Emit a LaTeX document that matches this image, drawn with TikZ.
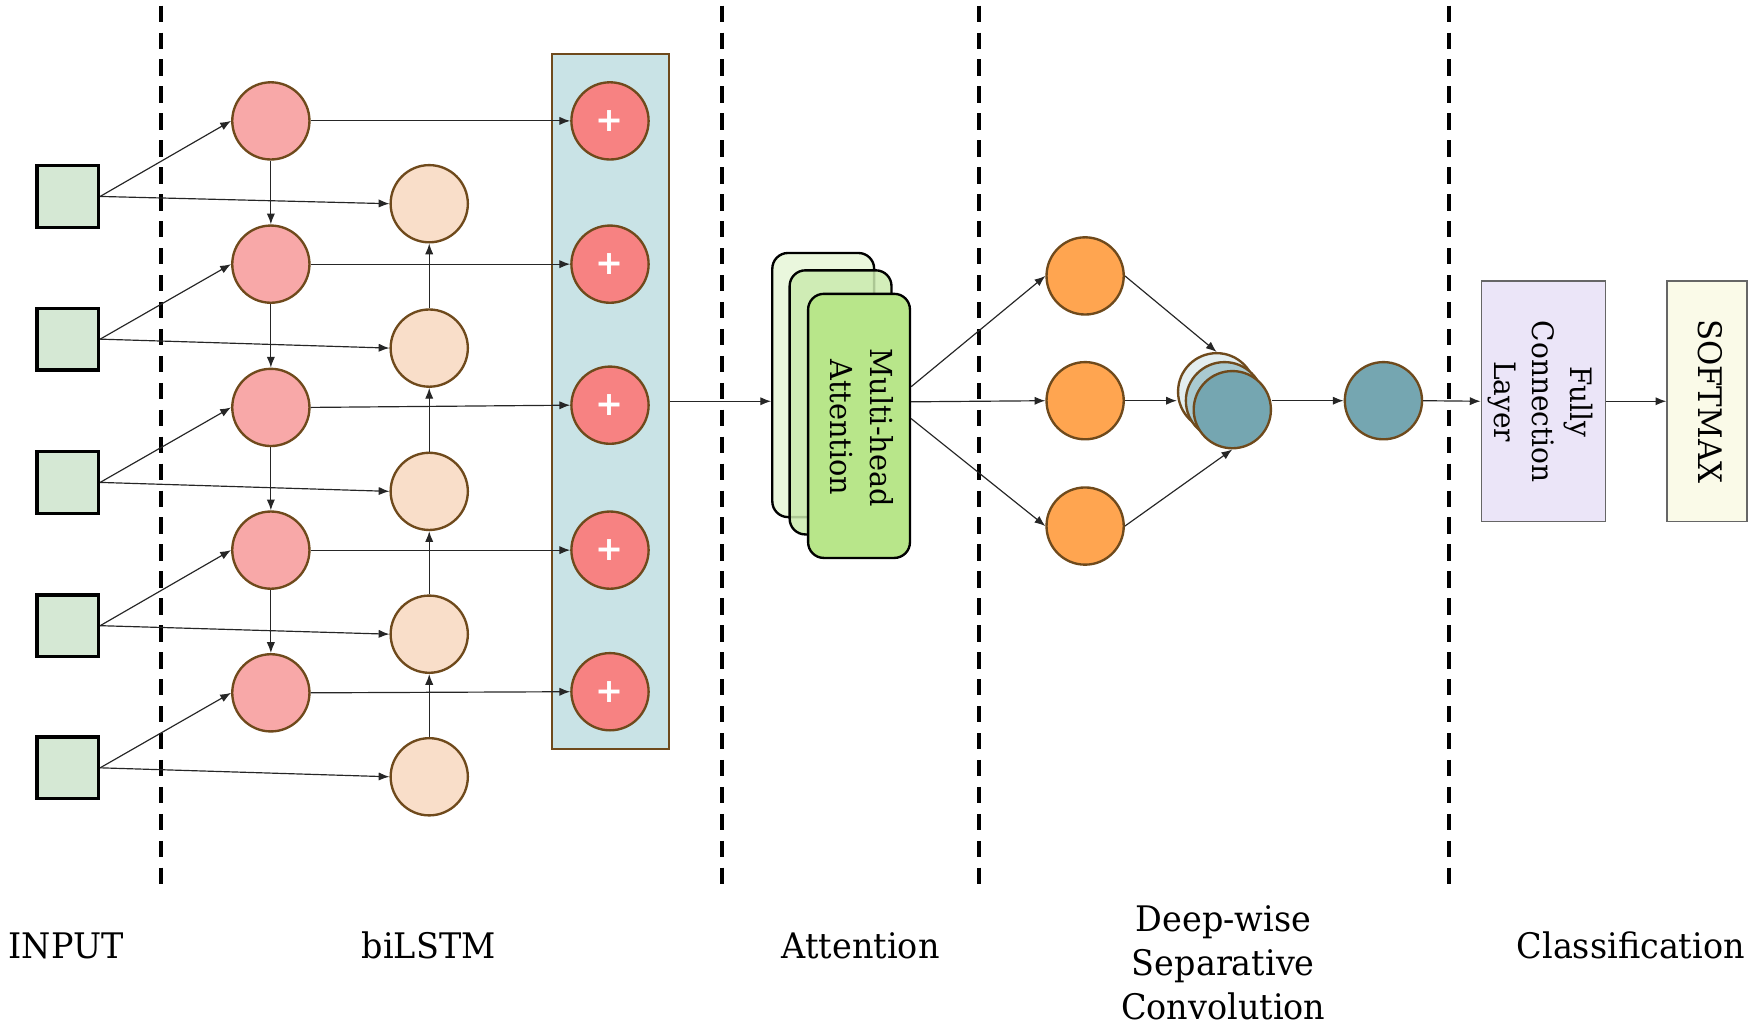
\documentclass[tikz,border=0pt]{standalone}
\usepackage{fontspec}
\setmainfont{DejaVu Serif}[FakeStretch=0.95]
\setsansfont{DejaVu Sans}
\usetikzlibrary{arrows.meta,calc}
\definecolor{inpgreen}{HTML}{D5E8D4}
\definecolor{pinkc}{HTML}{F8A8A8}
\definecolor{peachc}{HTML}{F9DEC9}
\definecolor{plusred}{HTML}{F78282}
\definecolor{bluebox}{HTML}{C9E3E6}
\definecolor{brownl}{HTML}{6F4A1C}
\definecolor{orangec}{HTML}{FFA550}
\definecolor{tealc}{HTML}{75A6B1}
\definecolor{tealmid}{HTML}{A9CAD1}
\definecolor{teallight}{HTML}{E3EEF0}
\definecolor{attback}{HTML}{EAF7DD}
\definecolor{attmid}{HTML}{CBEBAE}
\definecolor{attfront}{HTML}{B8E68A}
\definecolor{fcfill}{HTML}{EBE5F8}
\definecolor{smfill}{HTML}{FAFAE8}
\definecolor{boxgray}{HTML}{666666}
\begin{document}
\begin{tikzpicture}[x=0.02cm,y=-0.02cm,
  inp/.style={rectangle,draw=black,line width=1.7pt,fill=inpgreen,minimum size=1.1cm,inner sep=0pt},
  neuron/.style={circle,draw=brownl,line width=1.2pt,minimum size=1.38cm,inner sep=0pt},
  fwd/.style={neuron,fill=pinkc},
  bwd/.style={neuron,fill=peachc},
  plusc/.style={neuron,fill=plusred,text=white,font=\sffamily\bfseries\fontsize{17}{17}\selectfont},
  orn/.style={neuron,fill=orangec},
  arr/.style={draw=black!85,line width=0.6pt,-{Latex[length=5.5pt,width=4.2pt]}},
  sep/.style={draw=black,line width=2pt,dash pattern=on 8.3pt off 5.4pt},
  attbox/.style={rectangle,rounded corners=0.28cm,draw=black,line width=1.2pt,minimum width=1.82cm,minimum height=4.72cm},
  plainbox/.style={rectangle,draw=boxgray,line width=0.8pt,minimum height=4.3cm,inner sep=0pt},
  lbl/.style={font=\fontsize{17.9}{22.5}\selectfont,inner sep=0pt}
]
\useasboundingbox (0,0) rectangle (1568,917);
% separators
\foreach \xx in {144,645,875,1295} \draw[sep] (\xx,5) -- (\xx,790);
% concat box
\node[rectangle,draw=brownl,line width=1.1pt,fill=bluebox,minimum width=2.1cm,minimum height=12.42cm,inner sep=0pt] (bbox) at (545.5,358.5) {};
% rows
\foreach \i/\ys/\yp/\yb/\yq in {1/175.5/108/182/108, 2/303/236/311/236, 3/431/364/439/362, 4/559/491.5/566.6/491.5, 5/686/619/694/618} {
  \node[inp] (in\i) at (60.5,\ys) {};
  \node[fwd] (p\i) at (242,\yp) {};
  \node[bwd] (b\i) at (383.5,\yb) {};
  \node[plusc] (q\i) at (545,\yq) {+};
}
\foreach \i in {1,...,5} {
  \draw[arr] (in\i.east) -- (p\i.west);
  \draw[arr] (in\i.east) -- (b\i.west);
  \draw[arr] (p\i.east) -- (q\i.west);
}
\foreach \i/\j in {1/2,2/3,3/4,4/5} {
  \draw[arr] (p\i) -- (p\j);
  \draw[arr] (b\j) -- (b\i);
}
% attention stack
\node[attbox,fill=attback] (att1) at (735.5,344) {};
\node[attbox,fill=attmid,fill opacity=0.85] (att2) at (751,359.5) {};
\node[attbox,fill=attfront] (att3) at (767.5,380.5) {};
\node[rotate=-90,align=center,font=\fontsize{15.4}{20.2}\selectfont,inner sep=0pt] (mhtext) at (770,382) {Multi-head\\Attention};
\draw[arr] (bbox.east) -- (bbox.east -| att1.west);
% depthwise
\node[orn] (o1) at (969.5,246.5) {};
\node[orn] (o2) at (969.5,358) {};
\node[orn] (o3) at (969.5,470) {};
\draw[arr] ($(att3.east)+(0,-35)$) -- (o1.west);
\draw[arr] ($(att3.east)+(0,-21.5)$) -- (o2.west);
\draw[arr] ($(att3.east)+(0,-6.5)$) -- (o3.west);
\node[neuron,fill=teallight] (s1) at (1087,350) {};
\node[neuron,fill=tealmid] (s2) at (1094,358) {};
\node[neuron,fill=tealc] (s3) at (1101,366) {};
\node[neuron,fill=tealc] (f) at (1236,358) {};
\draw[arr] (o1.east) -- (s1.north);
\draw[arr] (o2.east) -- (o2.east -| s1.west);
\draw[arr] (o3.east) -- (s3.south);
\draw[arr] (f.west -| s3.east) -- (f.west);
% classification
\node[plainbox,fill=fcfill,minimum width=2.22cm] (fc) at (1379,358.5) {};
\node[plainbox,fill=smfill,minimum width=1.43cm] (sm) at (1525.2,358.5) {};
\node[rotate=-90,align=center,font=\fontsize{15}{19.4}\selectfont,inner sep=0pt] (fctext) at (1376,359) {Fully\\Connection\\Layer};
\node[rotate=-90,font=\fontsize{16.5}{16.5}\selectfont,inner sep=0pt] (smtext) at (1528,358.5) {SOFTMAX};
\draw[arr] (f.east) -- (fc.west);
\draw[arr] (fc.east) -- (sm.west);
% labels
\node[lbl,anchor=base] (l1) at (59,856) {INPUT};
\node[lbl,anchor=base] (l2) at (383,856) {biLSTM};
\node[lbl,anchor=base] (l3) at (769,856) {Attention};
\node[lbl,align=center] (l4) at (1093,860) {Deep-wise\\Separative\\Convolution};
\node[lbl,anchor=base] (l5) at (1457,856) {Classification};
\end{tikzpicture}
\end{document}
